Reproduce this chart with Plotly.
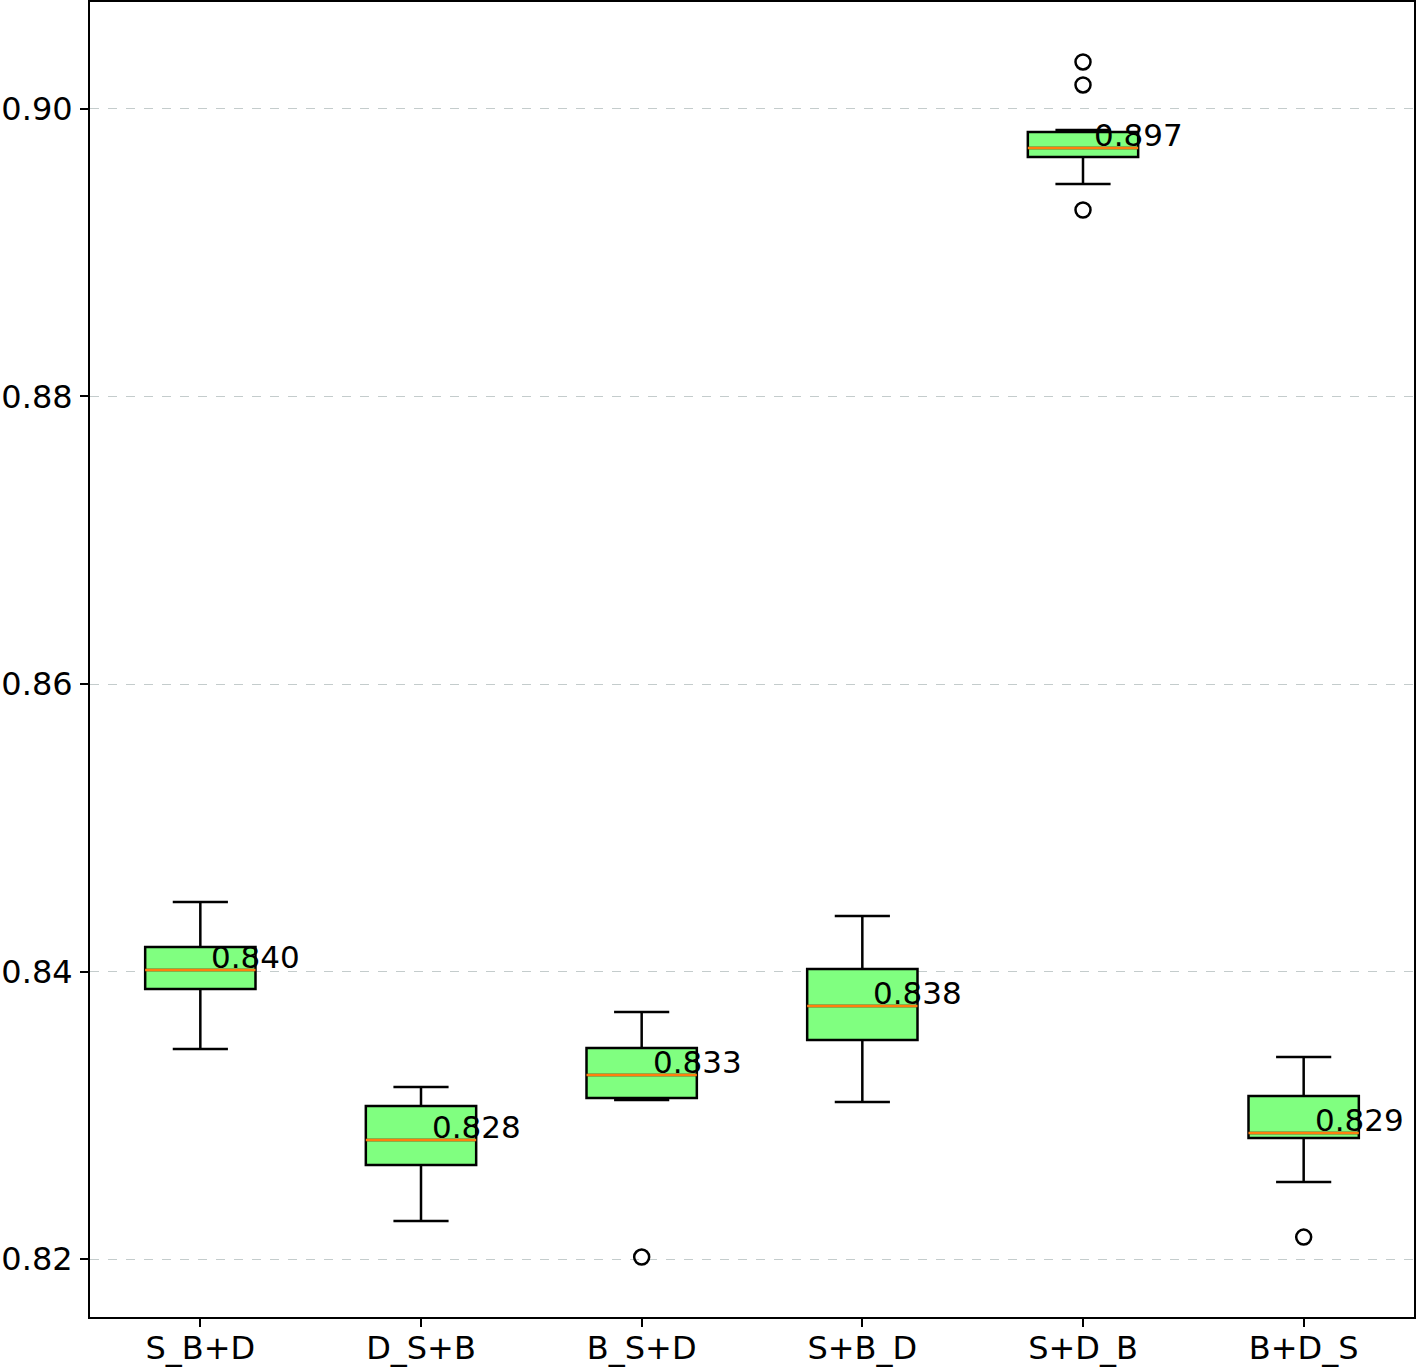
import plotly.graph_objects as go

categories = ["S_B+D", "D_S+B", "B_S+D", "S+B_D", "S+D_B", "B+D_S"]
lower_whisker = [0.83461, 0.82264, 0.83106, 0.83092, 0.89478, 0.82536]
q1 = [0.83878, 0.82654, 0.83120, 0.83523, 0.89666, 0.82842]
median = [0.84010, 0.82828, 0.83280, 0.83760, 0.89729, 0.82877]
q3 = [0.84170, 0.83064, 0.83468, 0.84017, 0.89840, 0.83134]
upper_whisker = [0.84483, 0.83197, 0.83718, 0.84386, 0.89854, 0.83405]
outliers = [[], [], [0.82014], [], [0.90327, 0.90167, 0.89297], [0.82153]]

positions = list(range(1, len(categories) + 1))
box_width = 0.5
FONT = "DejaVu Sans"

fig = go.Figure()

for i, pos in enumerate(positions):
    fig.add_trace(go.Box(
        x=[pos], q1=[q1[i]], median=[median[i]], q3=[q3[i]],
        lowerfence=[lower_whisker[i]], upperfence=[upper_whisker[i]],
        width=box_width, whiskerwidth=0.5,
        fillcolor="#80FF80", line=dict(color="black", width=2.5),
        boxpoints=False, showlegend=False, hoverinfo="skip",
    ))

for i, pos in enumerate(positions):
    fig.add_trace(go.Scatter(
        x=[pos - box_width / 2, pos + box_width / 2], y=[median[i], median[i]],
        mode="lines", line=dict(color="#ff7f0e", width=2.5),
        showlegend=False, hoverinfo="skip",
    ))

for i, pos in enumerate(positions):
    if outliers[i]:
        fig.add_trace(go.Scatter(
            x=[pos] * len(outliers[i]), y=outliers[i], mode="markers",
            marker=dict(symbol="circle-open", size=15, color="black",
                        line=dict(color="black", width=2.5)),
            showlegend=False, hoverinfo="skip",
        ))

for i, pos in enumerate(positions):
    fig.add_annotation(
        x=pos + 0.05, y=median[i], text=f"{median[i]:.3f}",
        xanchor="left", yanchor="bottom", xshift=-2, yshift=-7, showarrow=False,
        font=dict(family=FONT, size=31, color="black"),
    )

fig.update_layout(
    width=1416, height=1367,
    margin=dict(l=90, r=2, t=2, b=50, autoexpand=False),
    plot_bgcolor="white", paper_bgcolor="white",
    boxmode="overlay",
    font=dict(family=FONT, size=31, color="black"),
    showlegend=False,
)
fig.update_xaxes(
    range=[0.5, 6.5], tickmode="array", tickvals=positions, ticktext=categories,
    tickfont=dict(family=FONT, size=32, color="black"), ticklabelstandoff=-6,
    showline=True, mirror=True, linecolor="black", linewidth=2,
    ticks="outside", ticklen=8, tickwidth=2, tickcolor="black",
    showgrid=False, zeroline=False, automargin=False,
)
fig.update_yaxes(
    range=[0.81597, 0.90744], tick0=0.82, dtick=0.02, tickformat=".2f",
    tickfont=dict(family=FONT, size=32, color="black"), ticklabelstandoff=1,
    showline=True, mirror=True, linecolor="black", linewidth=2,
    ticks="outside", ticklen=8, tickwidth=2, tickcolor="black",
    showgrid=True, gridcolor="#c4cccc", griddash="dash", gridwidth=1,
    zeroline=False, automargin=False,
)

fig.write_html(
    "out.html",
    config={"displayModeBar": False},
    post_script="document.body.style.margin='0';document.body.style.overflow='hidden';",
)
